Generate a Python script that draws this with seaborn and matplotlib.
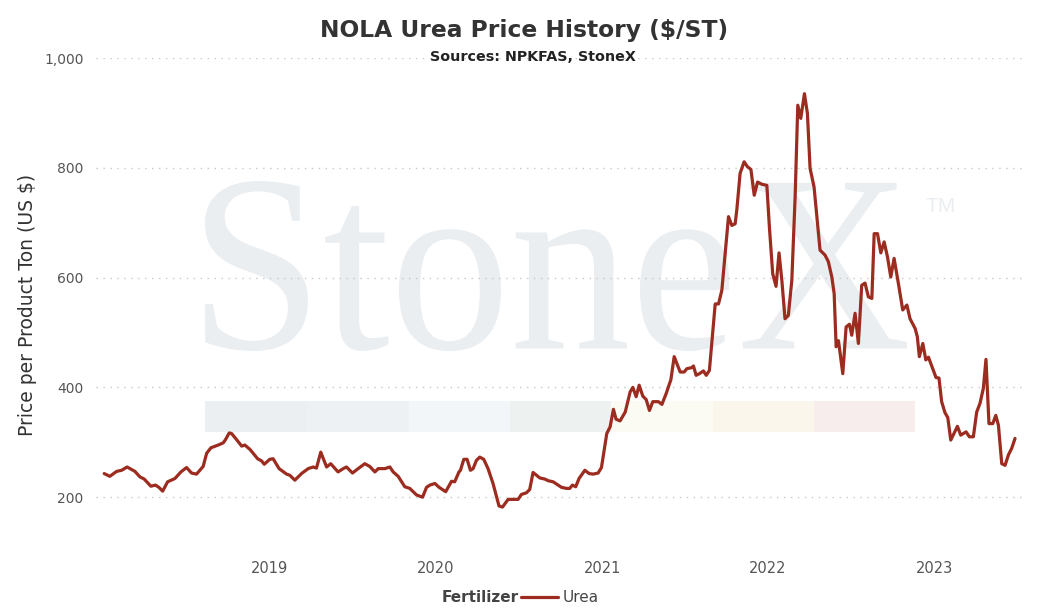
import pandas as pd
import matplotlib
matplotlib.use('Agg')
import matplotlib.pyplot as plt
import matplotlib.dates as mdates
import seaborn as sns
from matplotlib.textpath import TextPath
from matplotlib.font_manager import FontProperties
from matplotlib.patches import PathPatch, Rectangle
from matplotlib.transforms import Affine2D, IdentityTransform

# Weekly-ish NOLA urea prices (decimal year, $/ST)
years = [
    2018.002, 2018.036, 2018.077, 2018.107, 2018.140, 2018.187, 2018.217, 2018.243,
    2018.283, 2018.311, 2018.331, 2018.354, 2018.384, 2018.428, 2018.464, 2018.498,
    2018.528, 2018.558, 2018.598, 2018.619, 2018.645, 2018.689, 2018.719, 2018.733,
    2018.755, 2018.769, 2018.799, 2018.830, 2018.849, 2018.880, 2018.926, 2018.950,
    2018.966, 2019.000, 2019.020, 2019.056, 2019.101, 2019.120, 2019.151, 2019.191,
    2019.231, 2019.261, 2019.281, 2019.307, 2019.342, 2019.367, 2019.411, 2019.442,
    2019.462, 2019.498, 2019.532, 2019.572, 2019.602, 2019.633, 2019.653, 2019.693,
    2019.723, 2019.743, 2019.773, 2019.813, 2019.843, 2019.884, 2019.920, 2019.944,
    2019.964, 2019.994, 2020.020, 2020.060, 2020.095, 2020.114, 2020.140, 2020.149,
    2020.169, 2020.189, 2020.209, 2020.225, 2020.245, 2020.265, 2020.289, 2020.315,
    2020.345, 2020.381, 2020.402, 2020.436, 2020.456, 2020.496, 2020.516, 2020.546,
    2020.566, 2020.586, 2020.627, 2020.657, 2020.677, 2020.707, 2020.757, 2020.787,
    2020.807, 2020.823, 2020.843, 2020.863, 2020.898, 2020.924, 2020.948, 2020.978,
    2020.998, 2021.028, 2021.048, 2021.068, 2021.084, 2021.108, 2021.139, 2021.169,
    2021.185, 2021.205, 2021.223, 2021.245, 2021.265, 2021.285, 2021.305, 2021.339,
    2021.360, 2021.386, 2021.414, 2021.434, 2021.470, 2021.494, 2021.510, 2021.540,
    2021.550, 2021.566, 2021.586, 2021.610, 2021.627, 2021.646, 2021.681, 2021.701,
    2021.721, 2021.761, 2021.781, 2021.801, 2021.811, 2021.831, 2021.855, 2021.875,
    2021.896, 2021.916, 2021.936, 2021.962, 2021.992, 2022.008, 2022.028, 2022.048,
    2022.066, 2022.083, 2022.102, 2022.122, 2022.143, 2022.163, 2022.179, 2022.197,
    2022.219, 2022.237, 2022.253, 2022.277, 2022.313, 2022.343, 2022.363, 2022.384,
    2022.398, 2022.410, 2022.424, 2022.450, 2022.470, 2022.490, 2022.504, 2022.524,
    2022.544, 2022.564, 2022.584, 2022.604, 2022.625, 2022.639, 2022.659, 2022.679,
    2022.699, 2022.719, 2022.739, 2022.759, 2022.785, 2022.811, 2022.836, 2022.855,
    2022.886, 2022.899, 2022.911, 2022.932, 2022.950, 2022.966, 2022.992, 2023.012,
    2023.030, 2023.046, 2023.066, 2023.083, 2023.101, 2023.141, 2023.161, 2023.193,
    2023.213, 2023.237, 2023.257, 2023.277, 2023.297, 2023.313, 2023.331, 2023.354,
    2023.372, 2023.388, 2023.408, 2023.428, 2023.448, 2023.468, 2023.488,
]
prices = [
    243, 238, 247, 249, 255, 247, 237, 233,
    220, 222, 218, 211, 228, 234, 246, 254,
    244, 242, 256, 280, 290, 295, 299, 305,
    317, 316, 305, 293, 295, 287, 270, 266,
    260, 269, 270, 252, 242, 240, 231, 243,
    252, 255, 253, 282, 255, 261, 246, 252,
    255, 244, 252, 261, 256, 246, 252, 252,
    255, 246, 238, 219, 216, 204, 200, 218,
    222, 225, 218, 210, 229, 228, 246, 249,
    269, 269, 249, 252, 267, 273, 269, 252,
    225, 184, 182, 196, 196, 196, 205, 208,
    214, 245, 235, 233, 230, 228, 218, 216,
    216, 222, 219, 234, 249, 243, 242, 244,
    254, 316, 328, 360, 342, 339, 355, 392,
    400, 383, 404, 384, 378, 358, 374, 374,
    369, 389, 414, 456, 428, 428, 434, 436,
    439, 422, 425, 430, 422, 431, 552, 552,
    577, 711, 695, 698, 723, 790, 811, 802,
    797, 750, 774, 770, 768, 692, 607, 584,
    645, 595, 525, 531, 595, 747, 914, 890,
    935, 899, 799, 765, 650, 641, 629, 601,
    571, 474, 485, 425, 510, 515, 495, 535,
    480, 586, 590, 565, 562, 680, 680, 645,
    665, 638, 601, 635, 589, 541, 550, 525,
    507, 492, 456, 480, 450, 455, 434, 418,
    417, 374, 354, 345, 304, 329, 313, 319,
    310, 310, 355, 371, 398, 451, 334, 334,
    349, 331, 261, 258, 277, 289, 307,
]
fertilizer = 'Urea'
year_ticks = [2019, 2020, 2021, 2022, 2023]
price_ticks = [200, 400, 600, 800, 1000]


def to_date(y):
    base = pd.Timestamp(int(y), 1, 1)
    return base + pd.Timedelta(days=(y - int(y)) * 365.25)


df = pd.DataFrame({
    'Date': [to_date(y) for y in years],
    'Price': prices,
    'Fertilizer': fertilizer,
})

sns.set_style('white')
plt.rcParams['font.family'] = ['DejaVu Sans']

W, H = 1062, 616
fig = plt.figure(figsize=(W / 100, H / 100), dpi=100)
ax = fig.add_axes([96 / W, 1 - 540 / H, 929 / W, 482 / H])
ax.patch.set_alpha(0)

# StoneX watermark (logo text + colour stripe), behind the axes
wm_color = '#eaeef1'
tp = TextPath((0, 0), 'StoneX', size=100, prop=FontProperties(family='Liberation Serif'))
bb = tp.get_extents()
trf = (Affine2D().translate(-bb.x0, -bb.y0)
       .scale(702 / bb.width, 170 / bb.height)
       .translate(205, H - 351))
fig.add_artist(PathPatch(tp, transform=trf + IdentityTransform(), facecolor=wm_color,
                         edgecolor='none', zorder=-2))
fig.text(925 / W, 1 - 212 / H, 'TM', family='Liberation Sans', fontsize=15,
         color=wm_color, va='baseline', ha='left', zorder=-2)

stripe_colors = ['#eceff2', '#edf1f3', '#f2f6f9', '#edf1ef', '#fbfbf3', '#faf6ec', '#f7eded']
stripe_edges = [205, 307, 409, 510, 611, 713, 814, 915]
for c, x0, x1 in zip(stripe_colors, stripe_edges[:-1], stripe_edges[1:]):
    fig.add_artist(Rectangle((x0, H - 432), x1 - x0, 31, transform=IdentityTransform(),
                             facecolor=c, edgecolor='none', zorder=-2))

line_color = '#9b2c1f'
sns.lineplot(data=df, x='Date', y='Price', hue='Fertilizer', palette=[line_color],
             linewidth=2.3, ax=ax)
ax.get_legend().remove()

ax.set_xlim(to_date(2017.952), to_date(2023.548))
ax.set_ylim(122, 1000)
ax.set_xticks([pd.Timestamp(y, 1, 1) for y in year_ticks])
ax.xaxis.set_major_formatter(mdates.DateFormatter('%Y'))
ax.set_yticks(price_ticks)
ax.set_yticklabels([f'{v:,}' for v in price_ticks])
ax.tick_params(axis='x', length=0, pad=15, labelsize=10.5, labelcolor='#555555')
ax.tick_params(axis='y', length=0, pad=9, labelsize=10, labelcolor='#555555')
ax.grid(axis='y', color='#c8c8c8', linestyle=(0, (1, 4)), linewidth=1)
ax.grid(axis='x', visible=False)
sns.despine(ax=ax, left=True, bottom=True)

ax.set_xlabel('')
ax.set_ylabel('Price per Product Ton (US $)', fontsize=13.5, color='#333333')
ax.yaxis.set_label_coords(-0.064, 0.488)

fig.text(524 / W, 1 - 30 / H, 'NOLA Urea Price History ($/ST)', ha='center', va='center',
         fontsize=16.8, fontweight='bold', color='#333333')
fig.text(533 / W, 1 - 57 / H, 'Sources: NPKFAS, StoneX', ha='center', va='center',
         fontsize=10.3, fontweight='bold', color='#222222')

# legend: bold title to the left of the entry
fig.text(519 / W, 1 - 598 / H, 'Fertilizer', ha='right', va='center',
         fontsize=11, fontweight='bold', color='#444444')
handle = ax.get_lines()[0]
fig.legend([handle], [fertilizer], loc='center left', bbox_to_anchor=(521 / W, 1 - 598 / H),
           frameon=False, fontsize=11, handlelength=2.4, handletextpad=0.3,
           borderpad=0, borderaxespad=0, labelcolor='#444444')

fig.savefig('out.png', dpi=100)
